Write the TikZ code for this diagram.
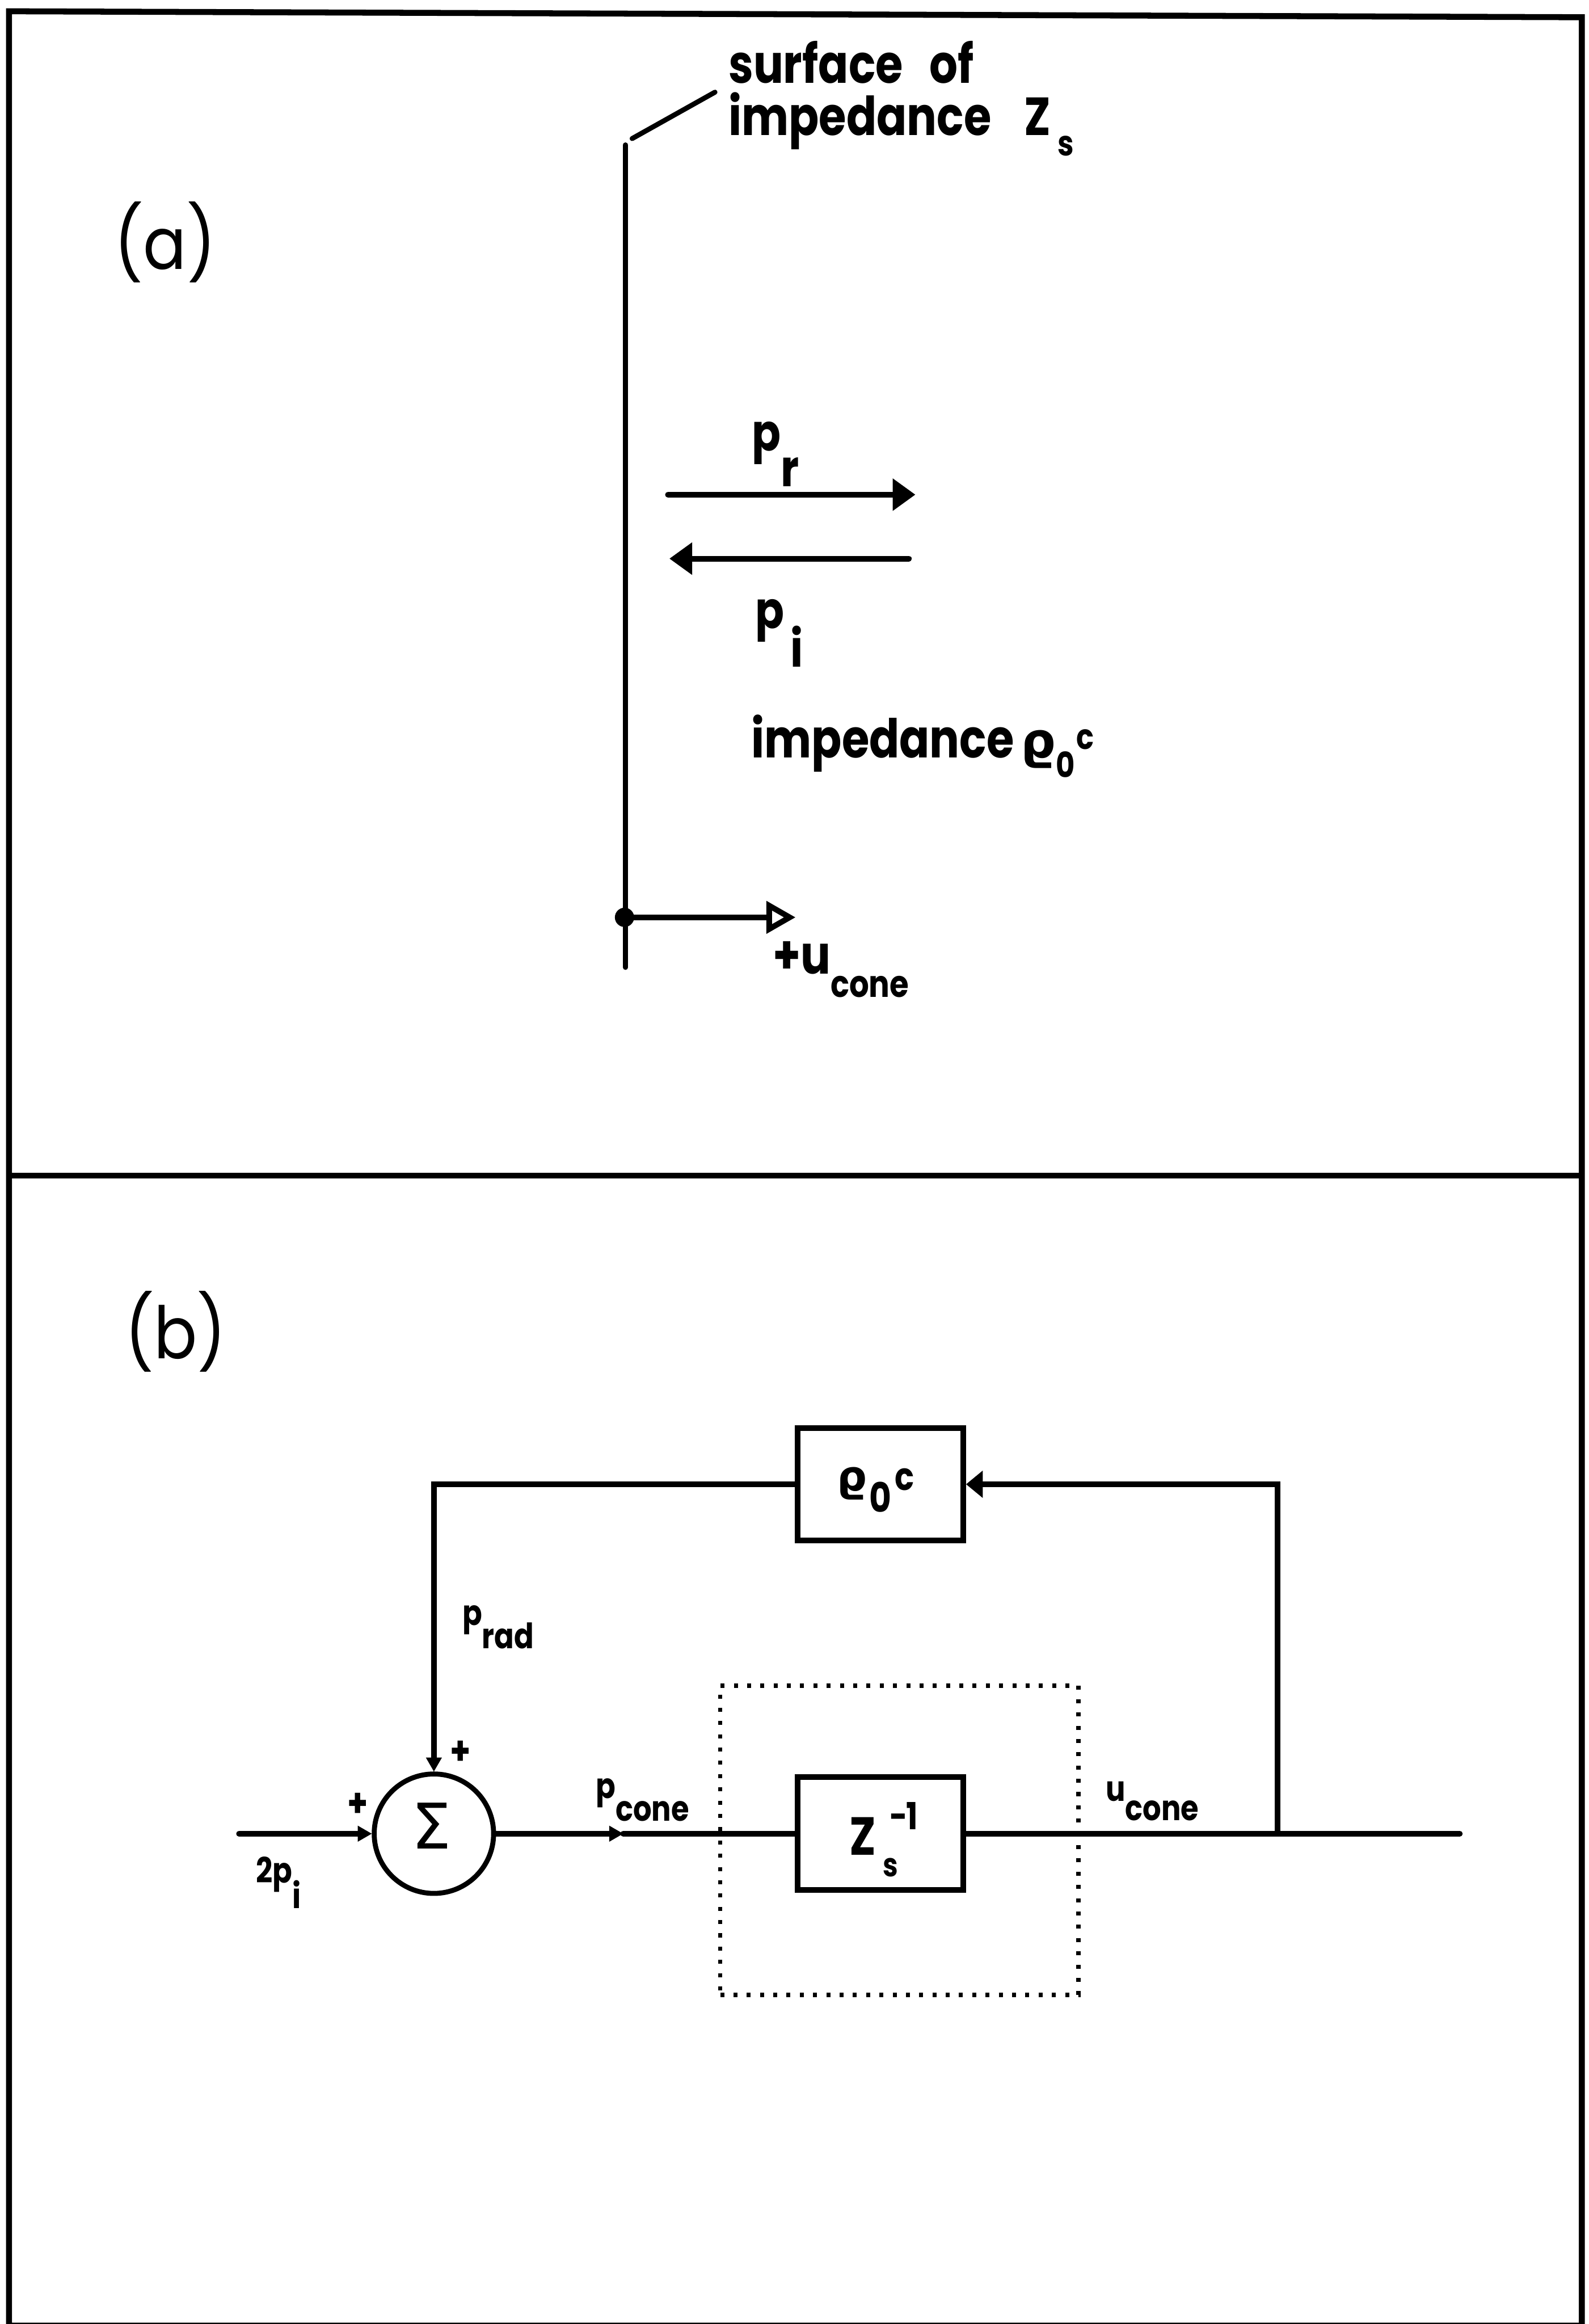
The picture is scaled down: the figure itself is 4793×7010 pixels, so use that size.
\documentclass[tikz,border=0pt]{standalone}
\usepackage{fontspec}
\usetikzlibrary{arrows.meta}
\newfontfamily\pf{Poppins}[FakeStretch=0.885]
\newfontfamily\pfb{Poppins}[FakeStretch=0.83]
\newfontfamily\gf{DejaVu Sans}
\newcommand\fsz[1]{\fontsize{#1}{#1}\selectfont}
\begin{document}
\begin{tikzpicture}[x=0.01cm,y=-0.01cm,
  frame/.style={line width=0.18cm},
  ln/.style={line width=0.17cm,line cap=round},
  ln2/.style={line width=0.15cm,line cap=round},
  txt/.style={inner sep=0,outer sep=0,anchor=base west,font=\pfb\bfseries\fsz{46}},
  btxt/.style={inner sep=0,outer sep=0,anchor=base west,font=\pfb\bfseries\fsz{30}},
  blk/.style={draw,line width=0.17cm,minimum width=5cm,minimum height=3.4cm,inner sep=0},
  bigtip/.style={-{Triangle[length=0.68cm,width=0.98cm,line width=0.5pt]}},
  medtip/.style={-{Triangle[length=0.5cm,width=0.82cm,line width=0.5pt]}},
  smalltip/.style={-{Triangle[length=0.42cm,width=0.48cm,line width=0.5pt]}},
  opentip/.style={-{Triangle[open,length=0.88cm,width=0.95cm]}}
]
\useasboundingbox (0,0) rectangle (4793,7010);
% frame
\draw[frame] (27,34) -- (4772,52) -- (4772,7015) -- (27,7015) -- cycle;
\draw[frame] (27,3546) -- (4772,3546);

% ---------- panel (a)
\node[inner sep=0,font=\pf\fsz{62}] (la) at (498,731) {(a)};
\coordinate (wtop) at (1887,437);
\coordinate (wbot) at (1887,2918);
\draw[ln2] (wtop) -- (wbot);
\coordinate (l1) at (1907,418);
\coordinate (l2) at (2157,278);
\draw[ln2] (l1) -- (l2);
\node[txt] (surf) at (2198,250) {surface\hspace{0.8cm}of};
\node[txt] (imp) at (2198,408) {impedance\hspace{1.0cm}Z\hspace{0.2cm}\raisebox{-0.62cm}{\fsz{30}s}};

\coordinate (pra) at (2015,1492);
\coordinate (prb) at (2761,1492);
\draw[ln,bigtip] (pra) -- (prb);
\coordinate (pia) at (2742,1685);
\coordinate (pib) at (2020,1685);
\draw[ln,bigtip] (pia) -- (pib);
\node[txt,font=\pfb\bfseries\fsz{44}] (prl) at (2268,1360) {p\raisebox{-1.08cm}{r}};
\node[txt,font=\pfb\bfseries\fsz{44}] (pil) at (2278,1895) {p\hspace{0.2cm}\raisebox{-1.17cm}{i}};

\node[txt] (imp2) at (2267,2285) {impedance\hspace{0.2cm}{\gf\bfseries\fsz{42}ϱ}\raisebox{-0.6cm}{\fsz{30}0}\hspace{0.05cm}\raisebox{0.25cm}{\fsz{30}c}};

\node[circle,fill,minimum size=0.58cm,inner sep=0] (dot) at (1884,2767) {};
\coordinate (uend) at (2400,2767);
\draw[ln,opentip] (dot.center) -- (uend);
\node[txt] (ucl) at (2331,2938) {+u\raisebox{-0.7cm}{\fsz{32}cone}};

% ---------- panel (b)
\node[inner sep=0,font=\pf\fsz{62}] (lb) at (530,4017) {(b)};
\node[blk] (rbox) at (2656,4477) {};
\node[txt,font=\gf\bfseries\fsz{36}] (rho) at (2525,4497) {ϱ};
\node[txt,font=\pfb\bfseries\fsz{35}] (rho0) at (2622,4562) {0};
\node[txt,font=\pfb\bfseries\fsz{33}] (rhoc) at (2700,4495) {c};

\node[blk] (zbox) at (2656,5531) {};
\node[txt,font=\pfb\bfseries\fsz{46}] (zz) at (2562,5595) {Z};
\node[txt,font=\pfb\bfseries\fsz{28}] (zs) at (2664,5660) {s};
\node[txt,font=\pfb\bfseries\fsz{32}] (zm) at (2684,5519) {−1};

\node[draw,line width=0.13cm,dash pattern=on 0.12cm off 0.28cm,minimum width=10.8cm,minimum height=9.33cm,inner sep=0] (dbox) at (2713,5551) {};

\node[circle,draw,line width=0.15cm,minimum size=3.6cm,inner sep=0] (sum) at (1309,5531) {};
\node[inner sep=0,font=\gf\fsz{54}] (sig) at (1302,5507) {Σ};

\coordinate (in) at (721,5531);
\coordinate (pcm) at (1880,5531);
\coordinate (tap) at (3854,5531);
\coordinate (oend) at (4404,5531);
\draw[ln,smalltip] (in) -- (sum.west);
\draw[ln,smalltip] (sum.east) -- (pcm);
\draw[ln] (pcm) -- (zbox.west);
\draw[ln] (zbox.east) -- (oend);
\draw[ln,medtip] (tap) |- (rbox.east);
\draw[ln,smalltip] (rbox.west) -| (sum.north);

\node[btxt] (prad) at (1395,4903) {p\raisebox{-0.7cm}{rad}};
\node[btxt] (pcone) at (1798,5425) {p\raisebox{-0.67cm}{cone}};
\node[btxt] (ucone) at (3336,5432) {u\raisebox{-0.59cm}{cone}};
\node[btxt] (tpi) at (772,5680) {2p\raisebox{-0.76cm}{i}};
\node[inner sep=0,font=\pfb\bfseries\fsz{34}] (plusa) at (1080,5444) {+};
\node[inner sep=0,font=\pfb\bfseries\fsz{34}] (plusb) at (1390,5288) {+};
\end{tikzpicture}
\end{document}
